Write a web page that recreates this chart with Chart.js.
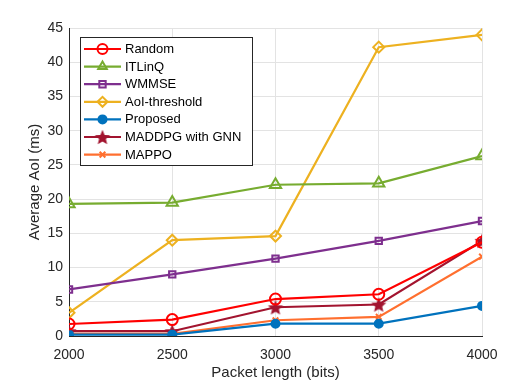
<!DOCTYPE html>
<html lang="en">
<head>
    <meta charset="UTF-8">
    <title>Average AoI</title>
    <style>
        body{
            margin: 0;
            background: #ffffff;
        }
        #wrap{
            width: 532px;
            height: 382px;
        }
    </style>
</head>
<body>
    <div id="wrap">
        <canvas id="grafik"></canvas>
    </div>

    <script src="https://cdn.jsdelivr.net/npm/chart.js"></script>

    <script>
        const packetLengths = [2000, 2500, 3000, 3500, 4000]
        const yTicks = [0, 5, 10, 15, 20, 25, 30, 35, 40, 45]

        const random      = [1.75, 2.4, 5.4, 6.1, 13.7]
        const itlinq      = [19.3, 19.5, 22.1, 22.3, 26.3]
        const wmmse       = [6.8, 9.0, 11.3, 13.9, 16.8]
        const aoiThresh   = [3.4, 14.0, 14.6, 42.2, 44.0]
        const proposed    = [0.2, 0.2, 1.8, 1.8, 4.4]
        const maddpgGnn   = [0.7, 0.7, 4.2, 4.6, 13.9]
        const mappo       = [0.3, 0.3, 2.3, 2.8, 11.6]

        const seriesNames = ["Random", "ITLinQ", "WMMSE", "AoI-threshold", "Proposed", "MADDPG with GNN", "MAPPO"]

        // filled star for the MADDPG series
        function makeStar(color, r){
            const c = document.createElement('canvas')
            c.width = r*2 + 2
            c.height = r*2 + 2
            const g = c.getContext('2d')
            g.beginPath()
            for(let i = 0; i < 10; i++){
                const rr = i % 2 === 0 ? r : r*0.45
                const a = -Math.PI/2 + i*Math.PI/5
                const px = r + 1 + rr*Math.cos(a)
                const py = r + 1 + rr*Math.sin(a) + 0.8
                if(i === 0) g.moveTo(px, py); else g.lineTo(px, py)
            }
            g.closePath()
            g.fillStyle = color
            g.fill()
            return c
        }
        const starImg = makeStar('#A2142F', 8)

        function toXY(arr){
            return arr.map((v, i) => ({x: packetLengths[i], y: v}))
        }

        function ds(label, arr, color, style, radius, filled){
            return {
                label: label,
                data: toXY(arr),
                borderColor: color,
                backgroundColor: filled ? color : '#ffffff',
                pointStyle: style,
                pointRadius: radius,
                pointBorderWidth: 2,
                pointBorderColor: color,
                pointBackgroundColor: filled ? color : 'rgba(255,255,255,0)',
                borderWidth: 2.2,
                tension: 0
            }
        }

        const datasets = [
            ds(seriesNames[0], random, '#FF0000', 'circle', 5.5, false),
            ds(seriesNames[1], itlinq, '#77AC30', 'triangle', 6.5, false),
            ds(seriesNames[2], wmmse, '#7E2F8E', 'rect', 4.5, false),
            ds(seriesNames[3], aoiThresh, '#EDB120', 'rectRot', 5.5, false),
            ds(seriesNames[4], proposed, '#0072BD', 'circle', 4, true),
            ds(seriesNames[5], maddpgGnn, '#A2142F', starImg, 8, true),
            ds(seriesNames[6], mappo, '#FF6F2F', 'crossRot', 4, false)
        ]

        // legend drawn inside the plot, top-left
        const innerLegend = {
            id: 'innerLegend',
            afterDraw(chart){
                const ctx = chart.ctx
                const x0 = 80.5, y0 = 37.5, w = 172, h = 128
                ctx.save()
                ctx.fillStyle = '#ffffff'
                ctx.fillRect(x0, y0, w, h)
                ctx.strokeStyle = '#262626'
                ctx.lineWidth = 1
                ctx.strokeRect(x0, y0, w, h)
                ctx.font = '13px "Liberation Sans", Arial, sans-serif'
                ctx.textBaseline = 'middle'
                chart.data.datasets.forEach((d, i) => {
                    const y = 49 + i*17.6
                    ctx.strokeStyle = d.borderColor
                    ctx.lineWidth = 2.2
                    ctx.beginPath()
                    ctx.moveTo(84, y)
                    ctx.lineTo(121, y)
                    ctx.stroke()
                    const r = d.pointStyle === starImg ? 7 : Math.min(d.pointRadius, 5)
                    ctx.fillStyle = d.pointBackgroundColor
                    ctx.strokeStyle = d.pointBorderColor
                    ctx.lineWidth = 2
                    Chart.helpers.drawPoint(ctx, {
                        pointStyle: d.pointStyle,
                        radius: r,
                        rotation: 0,
                        borderWidth: 2
                    }, 102.5, y)
                    ctx.fillStyle = '#000000'
                    ctx.fillText(d.label, 125, y + 0.5)
                })
                ctx.restore()
            }
        }

        const ctxChart = document.getElementById('grafik')
        const fontFam = '"Liberation Sans", Arial, sans-serif'

        new Chart(ctxChart, {
            type: 'line',
            data: {
                datasets: datasets
            },
            plugins: [innerLegend],
            options: {
                responsive: true,
                maintainAspectRatio: false,
                animation: false,
                layout: {
                    padding: {top: 28, right: 50, bottom: 0, left: 26}
                },
                plugins: {
                    legend: {display: false},
                    tooltip: {enabled: false}
                },
                scales: {
                    x: {
                        type: 'linear',
                        min: 2000,
                        max: 4000,
                        afterBuildTicks: (s) => { s.ticks = packetLengths.map(v => ({value: v})) },
                        afterFit: (s) => { s.height = 46 },
                        grid: {
                            color: '#e3e3e3',
                            lineWidth: 1,
                            drawTicks: false
                        },
                        border: {color: '#262626', width: 1},
                        ticks: {
                            color: '#262626',
                            padding: 11,
                            maxRotation: 0,
                            callback: (v) => String(v),
                            font: {family: fontFam, size: 14}
                        },
                        title: {
                            display: true,
                            text: 'Packet length (bits)',
                            color: '#262626',
                            padding: {top: 0, bottom: 0},
                            font: {family: fontFam, size: 15}
                        }
                    },
                    y: {
                        min: 0,
                        max: 45,
                        afterBuildTicks: (s) => { s.ticks = yTicks.map(v => ({value: v})) },
                        afterFit: (s) => { s.width = 43 },
                        grid: {
                            color: '#e3e3e3',
                            lineWidth: 1,
                            drawTicks: false
                        },
                        border: {color: '#262626', width: 1},
                        ticks: {
                            color: '#262626',
                            padding: 6,
                            font: {family: fontFam, size: 14}
                        },
                        title: {
                            display: true,
                            text: 'Average AoI (ms)',
                            color: '#262626',
                            padding: {top: 0, bottom: 0},
                            font: {family: fontFam, size: 15}
                        }
                    }
                }
            }
        });
    </script>
</body>
</html>
